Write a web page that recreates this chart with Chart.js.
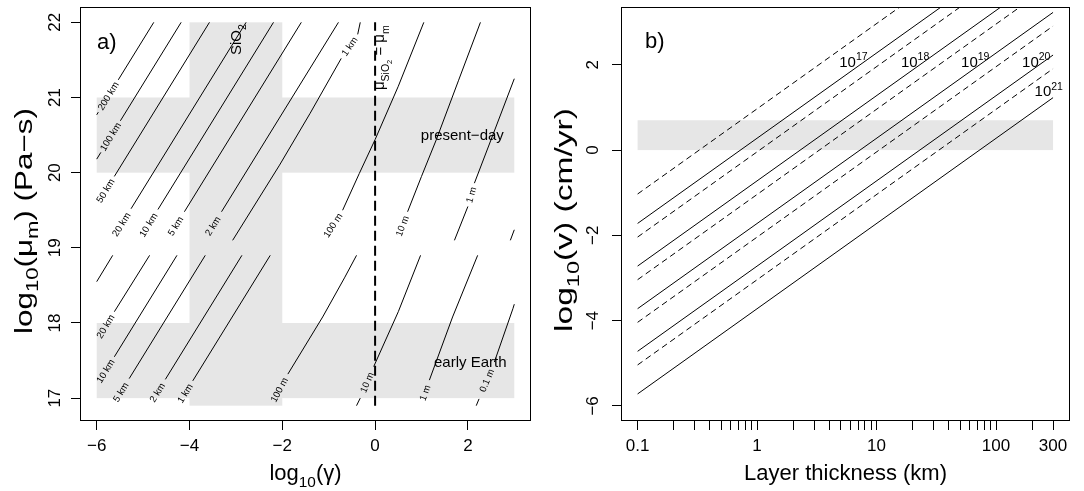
<!DOCTYPE html>
<html>
<head>
<meta charset="utf-8">
<script src="https://cdn.jsdelivr.net/npm/chart.js@4.4.1/dist/chart.umd.min.js"></script>
<style>
html,body{margin:0;padding:0;background:#fff;}
#wrap{position:relative;width:1084px;height:491px;overflow:hidden;}
.panel{position:absolute;top:0;width:542px;height:491px;}
canvas{display:block;}
</style>
</head>
<body>
<div id="wrap">
  <div class="panel" style="left:0"><canvas id="chartA" width="542" height="491"></canvas></div>
  <div class="panel" style="left:542px"><canvas id="chartB" width="542" height="491"></canvas></div>
</div>
<script>
// ---------------- Panel a) data ----------------
const gammaTicks = [-6, -4, -2, 0, 2];
const gammaTickLabels = ['\u22126', '\u22124', '\u22122', '0', '2'];
const muTicks = [17, 18, 19, 20, 21, 22];
const muTickLabels = ['17', '18', '19', '20', '21', '22'];

// shaded regions: [xmin, xmax, ymin, ymax]
const bandPresentDay = [-6, 3, 20, 21];
const bandEarlyEarth = [-6, 3, 17, 18];
const bandSiO2 = [-4, -2, 16.9, 22];

// contour lines [log10(gamma), log10(mu_m)]; null = gap where the label sits
// present-day set
const up200km = [[-6.00, 20.77], [-5.965, 20.805], null, [-5.535, 21.235], [-4.77, 22.00]];
const up100km = [[-6.00, 20.18], [-5.91, 20.27], null, [-5.49, 20.69], [-4.18, 22.00]];
const up50km  = [[-6.00, 19.57], null, [-5.62, 19.95], [-3.57, 22.00]];
const up20km  = [[-5.68, 19.10], null, [-5.26, 19.52], [-2.78, 22.00]];
const up10km  = [[-5.09, 19.10], null, [-4.68, 19.51], [-2.19, 22.00]];
const up5km   = [[-4.49, 19.10], null, [-4.11, 19.48], [-1.59, 22.00]];
const up2km   = [[-3.69, 19.10], null, [-3.31, 19.48], [-0.79, 22.00]];
const up1km   = [[-3.07, 19.10], [-2.06, 20.10], [-1.40, 20.79], [-0.73, 21.52], null, [-0.375, 21.84], [-0.32, 22.00]];
const up100m  = [[-1.12, 19.10], null, [-0.70, 19.50], [-0.34, 19.99], [0.00, 20.44], [0.50, 21.15], [1.05, 22.00]];
const up10m   = [[0.47, 19.10], null, [0.70, 19.48], [1.00, 19.95], [1.32, 20.44], [1.80, 21.23], [2.27, 22.00]];
const up1m    = [[1.71, 19.10], [2.00, 19.55], null, [2.14, 19.86], [2.50, 20.44], [3.00, 21.25]];
const up01m   = [[2.915, 19.10], [3.00, 19.24]];
// early-Earth set
const lo50km  = [[-6.00, 18.55], [-5.655, 18.90]];
const lo20km  = [[-6.00, 17.76], null, [-5.62, 18.15], [-4.86, 18.90]];
const lo10km  = [[-6.00, 17.17], null, [-5.62, 17.55], [-4.27, 18.90]];
const lo5km   = [[-5.66, 16.90], null, [-5.30, 17.26], [-3.66, 18.90]];
const lo2km   = [[-4.87, 16.90], null, [-4.52, 17.25], [-2.87, 18.90]];
const lo1km   = [[-4.26, 16.90], null, [-3.93, 17.23], [-2.26, 18.90]];
const lo100m  = [[-2.25, 16.90], null, [-1.88, 17.32], [-1.13, 18.08], [-0.66, 18.60], [-0.40, 18.90]];
const lo10m   = [[-0.40, 16.90], [-0.32, 17.00], null, [-0.03, 17.42], [0.50, 18.15], [0.98, 18.90]];
const lo1m    = [[0.98, 16.90], null, [1.17, 17.24], [1.67, 18.08], [2.21, 18.90]];
const lo01m   = [[2.18, 16.90], [2.24, 16.99], null, [2.57, 17.48], [2.97, 18.19], [3.00, 18.25]];

const contourLines = [up200km, up100km, up50km, up20km, up10km, up5km, up2km, up1km, up100m, up10m, up1m, up01m,
                      lo50km, lo20km, lo10km, lo5km, lo2km, lo1km, lo100m, lo10m, lo1m, lo01m];
const contourLabels = ['200 km', '100 km', '50 km', '20 km', '10 km', '5 km', '2 km', '1 km', '100 m', '10 m', '1 m', '',
                       '', '20 km', '10 km', '5 km', '2 km', '1 km', '100 m', '10 m', '1 m', '0.1 m'];

// mu_SiO2 = mu_m line
const equalViscX = [0, 0];
const equalViscY = [16.9, 22];

// ---------------- Panel b) data ----------------
const thicknessKm = [0.1, 300];
const logVSolid17 = [-1.72, 5.23];
const logVSolid18 = [-2.72, 4.23];
const logVSolid19 = [-3.72, 3.23];
const logVSolid20 = [-4.72, 2.23];
const logVSolid21 = [-5.72, 1.23];
const logVDash17 = [-1.03, 5.92];
const logVDash18 = [-2.04, 4.91];
const logVDash19 = [-3.04, 3.91];
const logVDash20 = [-4.04, 2.91];
const logVDash21 = [-5.04, 1.91];
const bandVelocity = [0.1, 300, 0, 0.7];

const thickMajorTicks = [0.1, 1, 10, 100, 300];
const thickMajorLabels = ['0.1', '1', '10', '100', '300'];
const thickMinorTicks = [0.2, 0.3, 0.4, 0.5, 0.6, 0.7, 0.8, 0.9, 2, 3, 4, 5, 6, 7, 8, 9,
                         20, 30, 40, 50, 60, 70, 80, 90, 200];
const logVTicks = [-6, -4, -2, 0, 2];
const logVTickLabels = ['\u22126', '\u22124', '\u22122', '0', '2'];

const viscExponents = ['17', '18', '19', '20', '21'];
const viscLabelH = [6.4, 21, 67, 217, 276];
const viscLabelV = [1.96, 1.96, 1.96, 1.96, 1.26];

// ---------------- helpers ----------------
const FONT = '"Liberation Sans", Arimo, Arial, Helvetica, sans-serif';
Chart.defaults.font.family = FONT;
Chart.defaults.color = '#000';
const GRAY = '#e6e6e6';

function toXY(p) { return p ? {x: p[0], y: p[1]} : {x: null, y: null}; }

function drawRich(ctx, parts, x, y, size, rot, align, targetLen) {
  const sc = {0: 1, 1: 0.7, 2: 0.5, '-1': 0.7};
  const sh = {0: 0, 1: 0.3, 2: 0.48, '-1': -0.45};
  ctx.save();
  ctx.translate(x, y);
  ctx.rotate(rot || 0);
  ctx.textBaseline = 'alphabetic';
  ctx.textAlign = 'left';
  ctx.fillStyle = '#000';
  let total = 0;
  const ws = parts.map(([t, l]) => {
    ctx.font = (size * sc[l]) + 'px ' + FONT;
    const w = ctx.measureText(t).width; total += w; return w;
  });
  if (targetLen) { ctx.scale(targetLen / total, 1); }
  let cx = align === 'left' ? 0 : (align === 'right' ? -total : -total / 2);
  parts.forEach(([t, l], i) => {
    ctx.font = (size * sc[l]) + 'px ' + FONT;
    ctx.fillText(t, cx, sh[l] * size);
    cx += ws[i];
  });
  ctx.restore();
}

function fillBand(chart, b) {
  const xs = chart.scales.x, ys = chart.scales.y, ctx = chart.ctx;
  const x0 = xs.getPixelForValue(b[0]), x1 = xs.getPixelForValue(b[1]);
  const y0 = ys.getPixelForValue(b[3]), y1 = ys.getPixelForValue(b[2]);
  ctx.save();
  ctx.fillStyle = GRAY;
  ctx.fillRect(x0, y0, x1 - x0, y1 - y0);
  ctx.restore();
}

function drawFrame(chart) {
  const a = chart.chartArea, ctx = chart.ctx;
  ctx.save();
  ctx.strokeStyle = '#000';
  ctx.lineWidth = 1;
  ctx.strokeRect(Math.round(a.left) + 0.5, Math.round(a.top) + 0.5,
                 Math.round(a.right - a.left) - 1, Math.round(a.bottom - a.top) - 1);
  ctx.restore();
}

function axisCfg(o) {
  return Object.assign({
    grid: {display: true, drawOnChartArea: false, drawTicks: true, tickLength: 9, tickColor: '#000', tickWidth: 1},
    border: {display: false}
  }, o);
}

// ---------------- Panel a ----------------
const decorA = {
  id: 'decorA',
  beforeDatasetsDraw(chart) {
    fillBand(chart, bandPresentDay);
    fillBand(chart, bandEarlyEarth);
    fillBand(chart, bandSiO2);
  },
  afterDatasetsDraw(chart) {
    const ctx = chart.ctx, xs = chart.scales.x, ys = chart.scales.y;
    // contour labels
    ctx.save();
    ctx.fillStyle = '#000';
    ctx.font = '9.6px ' + FONT;
    ctx.textAlign = 'center';
    ctx.textBaseline = 'middle';
    contourLines.forEach((pts, i) => {
      const lab = contourLabels[i];
      const k = pts.indexOf(null);
      if (!lab || k < 0) return;
      const a = pts[k - 1], b = pts[k + 1];
      const ax = xs.getPixelForValue(a[0]), ay = ys.getPixelForValue(a[1]);
      const bx = xs.getPixelForValue(b[0]), by = ys.getPixelForValue(b[1]);
      ctx.save();
      ctx.translate((ax + bx) / 2, (ay + by) / 2);
      ctx.rotate(Math.atan2(by - ay, bx - ax));
      ctx.fillText(lab, 0, 0.5);
      ctx.restore();
    });
    ctx.restore();
    // annotations
    const P = (x, y) => [xs.getPixelForValue(x), ys.getPixelForValue(y)];
    let p = P(-2.88, 21.77);
    drawRich(ctx, [['SiO', 0], ['2', 1]], p[0], p[1], 15, -Math.PI / 2, 'center');
    p = P(0.20, 21.53);
    drawRich(ctx, [['\u03bc', 0], ['SiO', 1], ['2', 2], [' = \u03bc', 0], ['m', 1]], p[0], p[1], 15, -Math.PI / 2, 'center');
    p = P(1.88, 20.43);
    drawRich(ctx, [['present\u2212day', 0]], p[0], p[1], 15, 0, 'center');
    p = P(2.05, 17.42);
    drawRich(ctx, [['early Earth', 0]], p[0], p[1], 15, 0, 'center');
  },
  afterDraw(chart) {
    const ctx = chart.ctx, a = chart.chartArea;
    drawFrame(chart);
    drawRich(ctx, [['a)', 0]], a.left + 17, a.top + 42, 22, 0, 'left');
    drawRich(ctx, [['log', 0], ['10', 1], ['(\u03b3)', 0]], (a.left + a.right) / 2, 480, 22, 0, 'center');
    drawRich(ctx, [['log', 0], ['10', 1], ['(\u03bc', 0], ['m', 1], [') (Pa\u2212s)', 0]], 31.5, 221, 23, -Math.PI / 2, 'center', 226);
  }
};

const datasetsA = contourLines.map(pts => ({
  data: pts.map(toXY),
  showLine: true, borderColor: '#000', borderWidth: 1, pointRadius: 0, fill: false, spanGaps: false
}));
datasetsA.push({
  data: equalViscX.map((x, i) => ({x: x, y: equalViscY[i]})),
  showLine: true, borderColor: '#000', borderWidth: 2, borderDash: [10, 5], pointRadius: 0, fill: false
});

new Chart(document.getElementById('chartA'), {
  type: 'scatter',
  data: {datasets: datasetsA},
  options: {
    responsive: false, animation: false, devicePixelRatio: 1, events: [],
    layout: {padding: {left: 0, right: 11, top: 7, bottom: 0}},
    plugins: {legend: {display: false}, tooltip: {enabled: false}},
    scales: {
      x: axisCfg({
        type: 'linear', position: 'bottom', min: -6.36, max: 3.36,
        afterBuildTicks: s => { s.ticks = gammaTicks.map(v => ({value: v})); },
        afterFit: s => { s.height = 70; s.paddingLeft = 0; s.paddingRight = 0; },
        ticks: {autoSkip: false, maxRotation: 0, minRotation: 0, padding: 6, font: {size: 17}, color: '#000',
                callback: v => { const i = gammaTicks.indexOf(v); return i < 0 ? '' : gammaTickLabels[i]; }}
      }),
      y: axisCfg({
        type: 'linear', position: 'left', min: 16.696, max: 22.204,
        afterBuildTicks: s => { s.ticks = muTicks.map(v => ({value: v})); },
        afterFit: s => { s.width = 80; s.paddingTop = 0; s.paddingBottom = 0; },
        ticks: {autoSkip: false, minRotation: 90, maxRotation: 90, crossAlign: 'center', padding: 6, font: {size: 17}, color: '#000',
                callback: v => { const i = muTicks.indexOf(v); return i < 0 ? '' : muTickLabels[i]; }}
      })
    }
  },
  plugins: [decorA]
});

// ---------------- Panel b ----------------
const decorB = {
  id: 'decorB',
  beforeDatasetsDraw(chart) { fillBand(chart, bandVelocity); },
  afterDatasetsDraw(chart) {
    const ctx = chart.ctx, xs = chart.scales.x, ys = chart.scales.y;
    viscExponents.forEach((e, i) => {
      const x = xs.getPixelForValue(viscLabelH[i]), y = ys.getPixelForValue(viscLabelV[i]);
      drawRich(ctx, [['10', 0], [e, -1]], x, y, 15, 0, 'center');
    });
  },
  afterDraw(chart) {
    const ctx = chart.ctx, a = chart.chartArea;
    drawFrame(chart);
    drawRich(ctx, [['b)', 0]], a.left + 24, a.top + 41, 22, 0, 'left');
    drawRich(ctx, [['Layer thickness (km)', 0]], (a.left + a.right) / 2, 480, 22, 0, 'center');
    drawRich(ctx, [['log', 0], ['10', 1], ['(v) (cm/yr)', 0]], 30, 220, 23, -Math.PI / 2, 'center', 224);
  }
};

function lineSet(vals, dashed) {
  return {
    data: thicknessKm.map((h, i) => ({x: h, y: vals[i]})),
    showLine: true, borderColor: '#000', borderWidth: 1, pointRadius: 0, fill: false,
    borderDash: dashed ? [6, 4] : []
  };
}
const datasetsB = [
  lineSet(logVSolid17, false), lineSet(logVSolid18, false), lineSet(logVSolid19, false),
  lineSet(logVSolid20, false), lineSet(logVSolid21, false),
  lineSet(logVDash17, true), lineSet(logVDash18, true), lineSet(logVDash19, true),
  lineSet(logVDash20, true), lineSet(logVDash21, true)
];
const allThickTicks = thickMajorTicks.concat(thickMinorTicks).sort((a, b) => a - b);

new Chart(document.getElementById('chartB'), {
  type: 'scatter',
  data: {datasets: datasetsB},
  options: {
    responsive: false, animation: false, devicePixelRatio: 1, events: [],
    layout: {padding: {left: 0, right: 14, top: 7, bottom: 0}},
    plugins: {legend: {display: false}, tooltip: {enabled: false}},
    scales: {
      x: axisCfg({
        type: 'logarithmic', position: 'bottom', min: 0.0726, max: 415.9,
        afterBuildTicks: s => { s.ticks = allThickTicks.map(v => ({value: v})); },
        afterFit: s => { s.height = 70; s.paddingLeft = 0; s.paddingRight = 0; },
        ticks: {autoSkip: false, maxRotation: 0, minRotation: 0, padding: 6, font: {size: 17}, color: '#000',
                callback: v => { const i = thickMajorTicks.findIndex(t => Math.abs(t - v) < 1e-9); return i < 0 ? '' : thickMajorLabels[i]; }}
      }),
      y: axisCfg({
        type: 'linear', position: 'left', min: -6.355, max: 3.357,
        afterBuildTicks: s => { s.ticks = logVTicks.map(v => ({value: v})); },
        afterFit: s => { s.width = 79; s.paddingTop = 0; s.paddingBottom = 0; },
        ticks: {autoSkip: false, minRotation: 90, maxRotation: 90, crossAlign: 'center', padding: 9, font: {size: 17}, color: '#000',
                callback: v => { const i = logVTicks.indexOf(v); return i < 0 ? '' : logVTickLabels[i]; }}
      })
    }
  },
  plugins: [decorB]
});
</script>
</body>
</html>
